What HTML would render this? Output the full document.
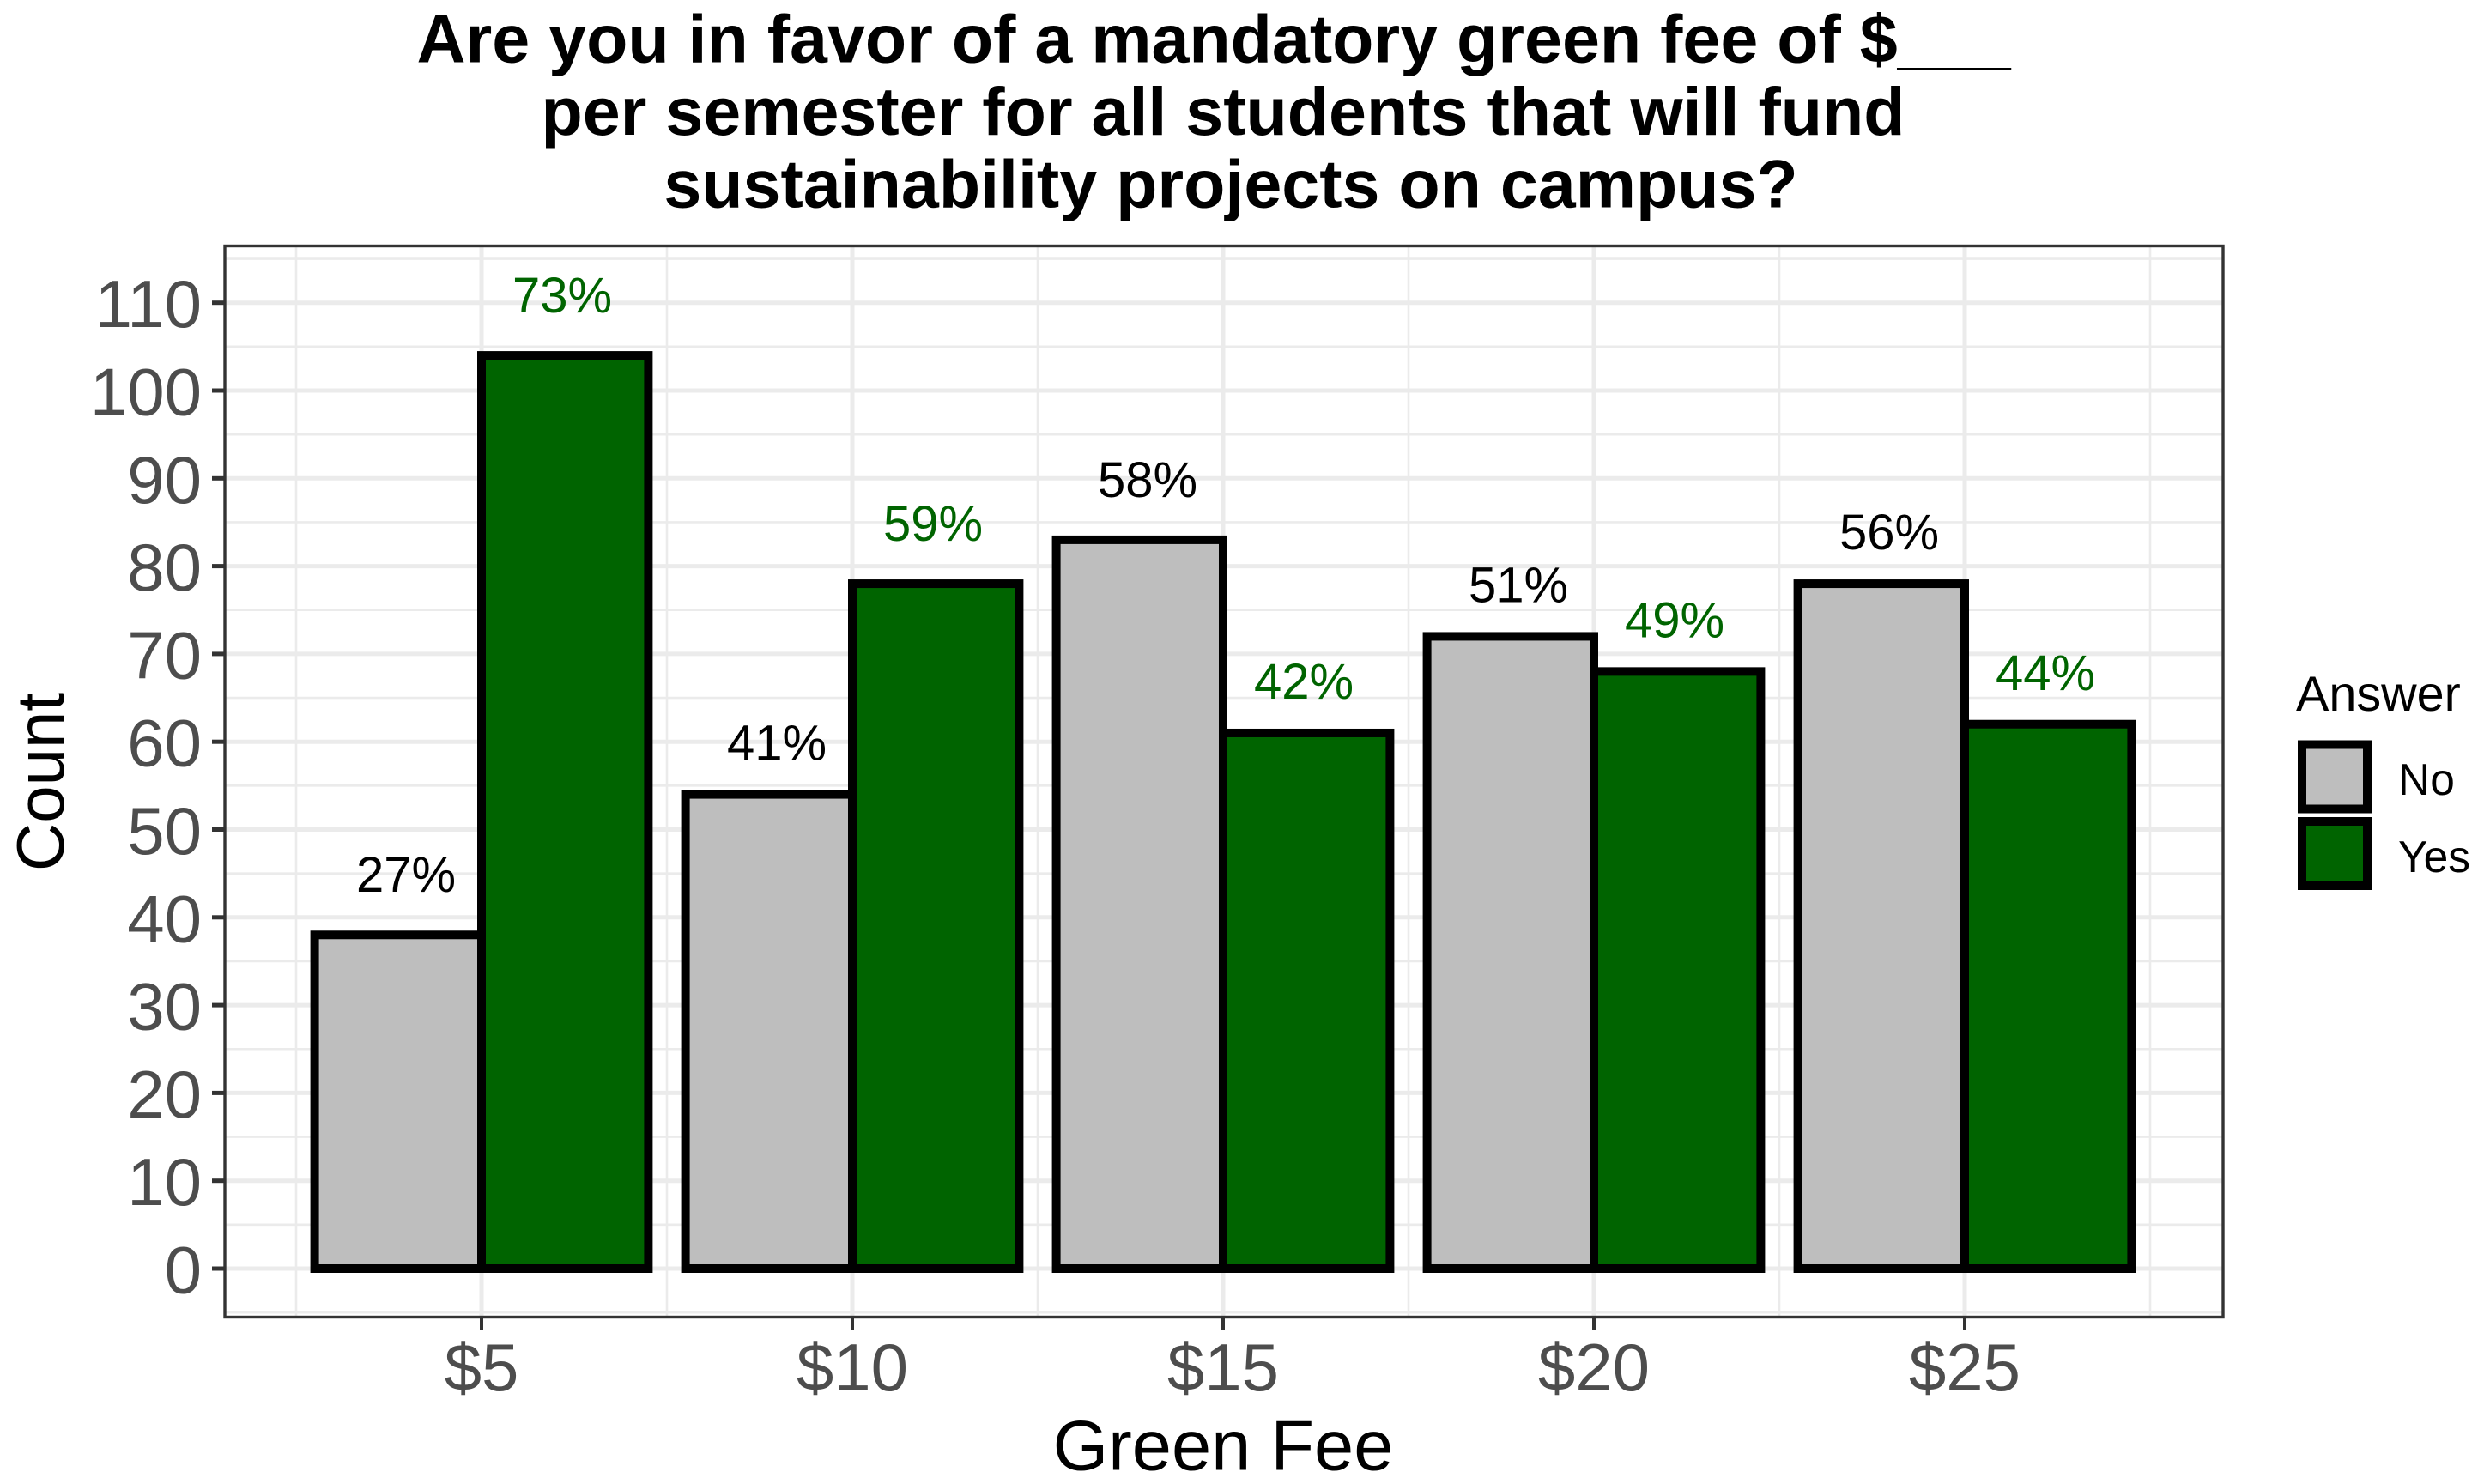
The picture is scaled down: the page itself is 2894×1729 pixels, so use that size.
<!DOCTYPE html>
<html lang="en">
<head>
<meta charset="utf-8">
<title>Green Fee Survey Chart</title>
<style>
  html, body { margin: 0; padding: 0; background: #ffffff; }
  svg { display: block; font-family: "Liberation Sans", Arial, sans-serif; }
</style>
</head>
<body>
<svg id="chart" xmlns="http://www.w3.org/2000/svg" width="2894" height="1729" viewBox="0 0 2894 1729">
  <rect x="0" y="0" width="2894" height="1729" fill="#ffffff"/>
  <g id="title" font-size="79" font-weight="700" fill="#000000" text-anchor="middle">
    <text x="1414" y="72.5">Are you in favor of a mandatory green fee of $___</text>
    <text x="1425" y="157">per semester for all students that will fund</text>
    <text x="1434" y="241.5">sustainability projects on campus?</text>
  </g>
  <rect x="262" y="286.5" width="2328" height="1248" fill="#ffffff"/>
  <g id="grid"></g>
  <g id="bars"></g>
  <g id="labels"></g>
  <rect x="262" y="286.5" width="2328" height="1248" fill="none" stroke="#333333" stroke-width="3.4"/>
  <g id="axes"></g>
  <text x="1425" y="1712.5" font-size="83" text-anchor="middle" fill="#000000">Green Fee</text>
  <text transform="translate(74,911) rotate(-90)" font-size="78" text-anchor="middle" fill="#000000">Count</text>
  <g id="legend">
    <text x="2675" y="828" font-size="57.5" fill="#000000">Answer</text>
    <rect x="2682" y="867.5" width="76" height="75" fill="#bebebe" stroke="#000000" stroke-width="10"/>
    <text x="2794" y="926" font-size="51.5" fill="#000000">No</text>
    <rect x="2682" y="957" width="76" height="75" fill="#006400" stroke="#000000" stroke-width="10"/>
    <text x="2794" y="1016" font-size="51.5" fill="#000000">Yes</text>
  </g>
</svg>
<script>
const categories = ['$5', '$10', '$15', '$20', '$25'];
const noCounts = [38, 54, 83, 72, 78];
const yesCounts = [104, 78, 61, 68, 62];
const noPercents = ['27%', '41%', '58%', '51%', '56%'];
const yesPercents = ['73%', '59%', '42%', '49%', '44%'];
const noLabelHeights = [42.9, 57.9, 87.9, 75.9, 81.9];
const yesLabelHeights = [108.9, 82.9, 64.9, 71.9, 65.9];
const yTicks = [0, 10, 20, 30, 40, 50, 60, 70, 80, 90, 100, 110];

const NS = 'http://www.w3.org/2000/svg';
const yZero = 1478, yUnit = 10.23;
const xFirst = 561, xStep = 432, barWidth = 194.4;
const panelLeft = 262, panelRight = 2590, panelTop = 286.5, panelBottom = 1534.5;

function xScale(i) { return xFirst + i * xStep; }
function yScale(v) { return yZero - v * yUnit; }

function make(parent, tag, attrs, text) {
  const node = document.createElementNS(NS, tag);
  for (const k in attrs) node.setAttribute(k, attrs[k]);
  if (text !== undefined) node.textContent = text;
  parent.appendChild(node);
  return node;
}

const grid = document.getElementById('grid');
const bars = document.getElementById('bars');
const labels = document.getElementById('labels');
const axes = document.getElementById('axes');

// minor gridlines, halfway between the ticks
const yStep = yTicks[1] - yTicks[0];
for (let i = -1; i < yTicks.length; i++) {
  const v = (i < 0 ? yTicks[0] - yStep : yTicks[i]) + yStep / 2;
  const el = make(grid, 'line', { x1: panelLeft, x2: panelRight, y1: yScale(v), y2: yScale(v), stroke: '#ebebeb', 'stroke-width': 2.6 });
  
  
}
for (let i = -1; i < categories.length; i++) {
  const x = xScale(i + 0.5);
  const el = make(grid, 'line', { x1: x, x2: x, y1: panelTop, y2: panelBottom, stroke: '#ebebeb', 'stroke-width': 2.6 });
  
  
}
// major gridlines
yTicks.forEach(function (v) {
  const el = make(grid, 'line', { x1: panelLeft, x2: panelRight, y1: yScale(v), y2: yScale(v), stroke: '#ebebeb', 'stroke-width': 5 });
  
  
});
categories.forEach(function (c, i) {
  const el = make(grid, 'line', { x1: xScale(i), x2: xScale(i), y1: panelTop, y2: panelBottom, stroke: '#ebebeb', 'stroke-width': 5 });
  
  
});

// bars and percent labels
categories.forEach(function (c, i) {
  const cx = xScale(i);
  const noBar = make(bars, 'rect', { x: cx - barWidth, y: yScale(noCounts[i]), width: barWidth, height: yScale(0) - yScale(noCounts[i]), fill: '#bebebe', stroke: '#000000', 'stroke-width': 10 });
  
  
  const yesBar = make(bars, 'rect', { x: cx, y: yScale(yesCounts[i]), width: barWidth, height: yScale(0) - yScale(yesCounts[i]), fill: '#006400', stroke: '#000000', 'stroke-width': 10 });
  
  
  const noLabel = make(labels, 'text', { x: cx - 88, y: yScale(noLabelHeights[i]), 'font-size': 58, 'text-anchor': 'middle', fill: '#000000' }, noPercents[i]);
  
  
  const yesLabel = make(labels, 'text', { x: cx + 94, y: yScale(yesLabelHeights[i]), 'font-size': 58, 'text-anchor': 'middle', fill: '#006400' }, yesPercents[i]);
  
  
});

// axis ticks and tick labels
yTicks.forEach(function (v) {
  const tick = make(axes, 'line', { x1: 247, x2: panelLeft, y1: yScale(v), y2: yScale(v), stroke: '#333333', 'stroke-width': 5 });
  
  
  const label = make(axes, 'text', { x: 235, y: yScale(v) + 28.5, 'font-size': 78, 'text-anchor': 'end', fill: '#4d4d4d' }, String(v));
  
  
});
categories.forEach(function (c, i) {
  const tick = make(axes, 'line', { x1: xScale(i), x2: xScale(i), y1: panelBottom, y2: panelBottom + 15, stroke: '#333333', 'stroke-width': 4 });
  
  
  const label = make(axes, 'text', { x: xScale(i), y: 1620, 'font-size': 78, 'text-anchor': 'middle', fill: '#4d4d4d' }, c);
  
  
});
</script>
</body>
</html>
